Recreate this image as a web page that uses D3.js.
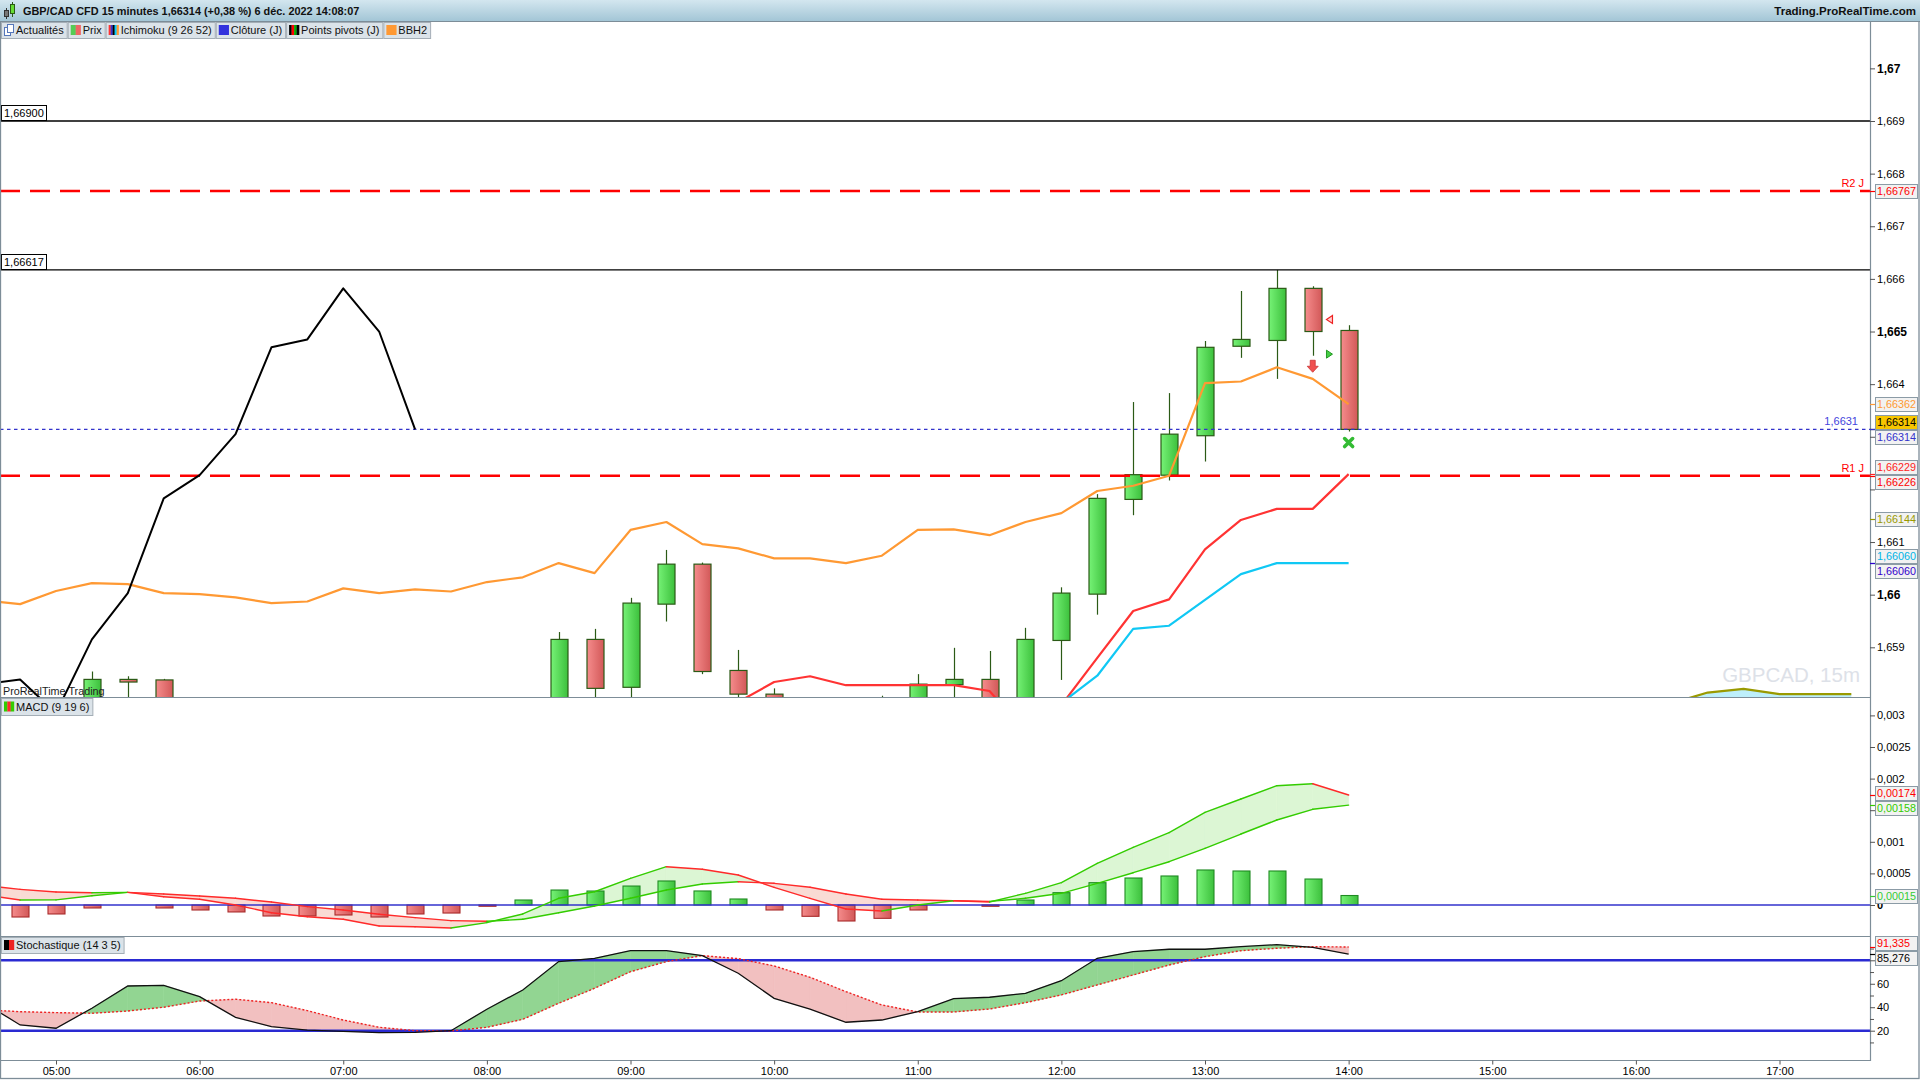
<!DOCTYPE html>
<html>
<head>
<meta charset="utf-8">
<script src="https://cdn.jsdelivr.net/npm/d3@7"></script>
<style>
html, body { margin: 0; padding: 0; background: #fff; }
svg { display: block; font-family: "Liberation Sans", Arial, sans-serif; }
</style>
</head>
<body>
<svg id="chart" width="1920" height="1080"></svg>
<script>
// ---- data ----
var times = ["04:30","04:45","05:00","05:15","05:30","05:45","06:00","06:15","06:30","06:45",
  "07:00","07:15","07:30","07:45","08:00","08:15","08:30","08:45","09:00","09:15",
  "09:30","09:45","10:00","10:15","10:30","10:45","11:00","11:15","11:30","11:45",
  "12:00","12:15","12:30","12:45","13:00","13:15","13:30","13:45","14:00"];

// candles 04:45 .. 14:00
var opens  = [1.6578,1.6577,1.6576,1.65839,1.65838,1.6578,1.6575,1.6572,1.6569,1.6571,1.6570,1.6567,1.6569,1.6571,1.6577,
  1.6579,1.65915,1.65824,1.65982,1.66058,1.65856,1.65811,1.6578,1.6575,1.6573,1.6579,1.65829,1.65839,1.6578,
  1.65913,1.66001,1.66181,1.66227,1.66302,1.66472,1.66483,1.66582,1.66502];
var highs  = [1.6580,1.6579,1.65854,1.65845,1.6584,1.6580,1.6578,1.6575,1.6573,1.6574,1.6572,1.6571,1.6573,1.6578,1.6580,
  1.65929,1.65935,1.65994,1.66085,1.66061,1.65895,1.65822,1.6580,1.6578,1.65808,1.65849,1.65899,1.65893,1.65937,
  1.66014,1.66191,1.66366,1.66383,1.66482,1.66577,1.66617,1.66586,1.66512];
var lows   = [1.6574,1.6573,1.6574,1.6579,1.6577,1.6574,1.6571,1.6568,1.6567,1.6568,1.6566,1.6565,1.6567,1.6570,1.6575,
  1.6578,1.6579,1.6579,1.65949,1.65849,1.6580,1.6576,1.6573,1.6570,1.6571,1.6577,1.6579,1.6574,1.6576,
  1.65838,1.65962,1.66151,1.66217,1.66253,1.6645,1.6641,1.66454,1.6631];
var closes = [1.6577,1.6576,1.65839,1.65834,1.6578,1.6575,1.6572,1.6569,1.6571,1.6570,1.6567,1.6569,1.6571,1.6577,1.6579,
  1.65915,1.65822,1.65984,1.66058,1.65854,1.65811,1.6578,1.6575,1.6572,1.6579,1.65830,1.65839,1.65775,1.65915,
  1.66003,1.66183,1.66228,1.66305,1.6647,1.66485,1.66582,1.665,1.66314];

// BBH2 (orange), 04:30 .. 14:00
var bbhVals = [1.65989,1.65982,1.66007,1.66022,1.6602,1.66003,1.66001,1.65995,1.65984,1.65987,1.66012,1.66003,1.6601,
  1.66006,1.66024,1.66033,1.6606,1.66041,1.66123,1.66138,1.66096,1.66088,1.66069,1.66069,1.6606,1.66074,1.66123,
  1.66124,1.66113,1.66138,1.66155,1.66197,1.66207,1.66226,1.66402,1.66405,1.66432,1.6641,1.66362];

// Ichimoku
var chikouTimes = ["04:30","04:45","05:00","05:15","05:30","05:45","06:00","06:15","06:30","06:45","07:00","07:15","07:30"];
var chikouVals = [1.6583,1.65839,1.65775,1.65915,1.66003,1.66183,1.66227,1.66305,1.6647,1.66485,1.66582,1.665,1.66314];
var tenkanTimes = ["09:45","10:00","10:15","10:30","10:45","11:00","11:15","11:30","11:45","12:00","12:15","12:30","12:45","13:00","13:15","13:30","13:45","14:00"];
var tenkanVals = [1.65796,1.65834,1.65845,1.65828,1.65828,1.65828,1.65828,1.65817,1.6574,1.6579,1.6588,1.65969,1.65991,1.66086,1.66142,1.66163,1.66163,1.66229];
var kijunTimes = ["11:45","12:00","12:15","12:30","12:45","13:00","13:15","13:30","13:45","14:00"];
var kijunVals = [1.6575,1.65794,1.65846,1.65935,1.65941,1.6599,1.66039,1.6606,1.6606,1.6606];
var senkouTimes = ["15:45","16:00","16:15","16:30","16:45","17:00","17:15","17:30"];
var senkouAVals = [1.6570,1.6576,1.65794,1.65814,1.65821,1.65811,1.65811,1.65811];
var senkouBVals = [1.6568,1.6569,1.6570,1.6570,1.6570,1.6570,1.6570,1.6570];

// horizontal levels
var blackLevels = [1.669, 1.66617];
var pivotNames = ["R2 J", "R1 J"];
var pivotVals = [1.66767, 1.66226];
var dayClose = 1.66314;

// signals
var signalTimes = ["13:52","13:52","13:45","14:00"];
var signalVals = [1.66523, 1.66457, 1.66434, 1.66289];
var signalKinds = ["sellTri", "buyTri", "downArrow", "cross"];

// MACD (9 19 6), 04:30 .. 14:00 ; histogram 04:45 .. 14:00
var macdVals = [0.00016,0.000079,0.000081,0.000147,0.0002,0.000131,0.00009,0.0,-0.000122,-0.000185,-0.000226,-0.000332,
  -0.000343,-0.000364,-0.000278,-0.000142,0.000106,0.00021,0.000422,0.000606,0.000565,0.000475,0.00028,0.000106,
  -0.000063,-0.000095,0.0,0.000068,0.000048,0.000185,0.000353,0.00066,0.000913,0.001144,0.001467,0.001677,0.001888,0.001919,0.00174];
var signalLineVals = [0.00031,0.000248,0.000206,0.000195,0.0002,0.000174,0.000142,0.000106,0.000047,-0.000026,-0.000079,
  -0.000147,-0.0002,-0.000248,-0.000258,-0.000226,-0.000122,-0.000016,0.000106,0.000237,0.000332,0.000369,0.000343,
  0.00028,0.000174,0.00009,0.000079,0.000068,0.000058,0.000106,0.000185,0.000343,0.000511,0.000685,0.000897,0.001123,0.001345,0.001514,0.00158];
var histVals = [-0.00019,-0.000142,-0.000047,0.0,-0.000047,-0.000079,-0.00011,-0.000174,-0.000174,-0.000158,-0.00019,
  -0.000142,-0.000127,-0.00002,0.000079,0.000237,0.000221,0.0003,0.00038,0.000222,0.000095,-0.000079,-0.000179,
  -0.000253,-0.000211,-0.000079,0.0,-0.00002,0.000079,0.000195,0.000353,0.000427,0.000459,0.000554,0.000538,0.000538,0.000411,0.00015];

// Stochastique (14 3 5), 04:30 .. 14:00
var kVals = [43.8,24.9,22.1,39.1,58.1,58.7,49.0,31.4,23.4,20.5,19.5,18.3,18.6,20,38.3,54.7,78.9,81.7,88.2,88.2,
  84,69,47.6,38.3,27.2,29.1,36.2,47.3,48.5,51.9,62.6,81.7,87.4,89.4,89.4,91.6,93.3,91.1,85.276];
var dVals = [37.8,36.2,35.4,34.9,36.8,40,45.3,46.8,43.9,37.1,29.1,22.9,20,19.8,22.9,29.7,43.4,56.2,70.3,78.9,
  84,81.4,75.2,65.5,53.3,41.9,36,36,38.5,43.9,50.5,59,67.5,76,83.1,88.2,90.3,91.6,91.335];

// axis labels
var priceTicks = [1.659,1.66,1.661,1.662,1.663,1.664,1.665,1.666,1.667,1.668,1.669,1.67];
var macdTicks = [0,0.0005,0.001,0.0015,0.002,0.0025,0.003];
var stochTicks = [20,40,60,80];
var stochMinor = [10,30,50,70,90];
var timeTicks = ["05:00","06:00","07:00","08:00","09:00","10:00","11:00","12:00","13:00","14:00","15:00","16:00","17:00"];

// last-value tags on the right axis
var priceTags = [["r2",1.66767],["bbh",1.66362],["last",1.66314],["close",1.66314],["tenkan",1.66229],
  ["r1",1.66226],["senkou",1.66144],["kijun",1.66060],["base",1.66060]];
var macdTags = [["macd",0.00174],["signal",0.00158],["hist",0.00015]];
var stochTags = [["d",91.335],["k",85.276]];

var legendNames = ["Actualités","Prix","Ichimoku (9 26 52)","Clôture (J)","Points pivots (J)","BBH2"];
var titleText = "GBP/CAD CFD 15 minutes 1,66314 (+0,38 %) 6 déc. 2022 14:08:07";

// ---- layout ----
var axisX = 1870;
var mainTop = 22, mainBottom = 697, macdTop = 698, macdBottom = 936, stochTop = 937, stochBottom = 1060;
var frame = "#7d8d98";

function mins(s) { var p = s.split(":"); return +p[0] * 60 + +p[1]; }

var x = d3.scaleLinear().domain([mins("05:00"), mins("17:00")]).range([56, 1779.5]);
var yMain = d3.scaleLinear().domain([1.659, 1.669]).range([647.3, 121]);
var yMacd = d3.scaleLinear().domain([0, 0.003]).range([905, 715.4]);
var yStoch = d3.scaleLinear().domain([20, 80]).range([1030.7, 960.3]);

var svg = d3.select("#chart");
var defs = svg.append("defs");

function hgrad(id, c1, c2, vertical) {
  var g = defs.append("linearGradient").attr("id", id)
    .attr("x1", 0).attr("y1", 0).attr("x2", vertical ? 0 : 1).attr("y2", vertical ? 1 : 0);
  g.append("stop").attr("offset", "0%").attr("stop-color", c1);
  g.append("stop").attr("offset", "100%").attr("stop-color", c2);
}
hgrad("gUp", "#76f276", "#3cc03c");
hgrad("gDn", "#f58c8c", "#d25858");
hgrad("gTitle", "#d3e6ef", "#a3c6d6", true);

function clip(id, top, bottom) {
  defs.append("clipPath").attr("id", id).append("rect")
    .attr("x", 1).attr("y", top).attr("width", axisX - 1).attr("height", bottom - top);
}
clip("cMain", mainTop, mainBottom);
clip("cMacd", macdTop, macdBottom);
clip("cStoch", stochTop, stochBottom);

svg.append("rect").attr("width", 1920).attr("height", 1080).attr("fill", "#fff");

// ---- main panel ----
var main = svg.append("g").attr("clip-path", "url(#cMain)");

main.append("text").attr("x", 1860).attr("y", 682).attr("text-anchor", "end")
  .attr("font-size", 20.5).attr("fill", "#dde1e8").text("GBPCAD, 15m");

// kumo
var senkou = senkouTimes.map(function (t, i) { return { t: mins(t), a: senkouAVals[i], b: senkouBVals[i] }; });
main.append("path").datum(senkou)
  .attr("d", d3.area().x(function (d) { return x(d.t); }).y0(function (d) { return yMain(d.b); }).y1(function (d) { return yMain(d.a); }))
  .attr("fill", "#bdeffb");

// candles
var candles = times.slice(1).map(function (t, i) {
  return { t: mins(t), o: opens[i], h: highs[i], l: lows[i], c: closes[i] };
});
var cg = main.append("g");
cg.selectAll("line").data(candles).join("line")
  .attr("x1", function (d) { return Math.round(x(d.t)) + 0.5; })
  .attr("x2", function (d) { return Math.round(x(d.t)) + 0.5; })
  .attr("y1", function (d) { return yMain(d.h); })
  .attr("y2", function (d) { return yMain(d.l); })
  .attr("stroke", "#2b5a16").attr("stroke-width", 1.2);
cg.selectAll("rect").data(candles).join("rect")
  .attr("x", function (d) { return Math.round(x(d.t)) - 8; })
  .attr("width", 17)
  .attr("y", function (d) { return yMain(Math.max(d.o, d.c)); })
  .attr("height", function (d) { return Math.max(1, Math.abs(yMain(d.o) - yMain(d.c))); })
  .attr("fill", function (d) { return d.c >= d.o ? "url(#gUp)" : "url(#gDn)"; })
  .attr("stroke", "#2b5a16").attr("stroke-width", 1.2);

main.append("text").attr("x", 3).attr("y", 695).attr("font-size", 10.8).attr("fill", "#222")
  .text("ProRealTime Trading");

// horizontal levels
blackLevels.forEach(function (v) {
  main.append("line").attr("x1", 0).attr("x2", axisX).attr("y1", yMain(v)).attr("y2", yMain(v))
    .attr("stroke", "#000").attr("stroke-width", 1.3);
});
pivotVals.forEach(function (v, i) {
  main.append("line").attr("x1", 0).attr("x2", axisX).attr("y1", yMain(v)).attr("y2", yMain(v))
    .attr("stroke", "#ff0000").attr("stroke-width", 2.7).attr("stroke-dasharray", "20,10");
  main.append("text").attr("x", 1864).attr("y", yMain(v) - 4).attr("text-anchor", "end")
    .attr("font-size", 11).attr("fill", "#ff0000").text(pivotNames[i]);
});
main.append("line").attr("x1", 0).attr("x2", axisX).attr("y1", yMain(dayClose)).attr("y2", yMain(dayClose))
  .attr("stroke", "#3333cc").attr("stroke-width", 1.1).attr("stroke-dasharray", "3.5,3.5");
main.append("text").attr("x", 1858).attr("y", yMain(dayClose) - 4).attr("text-anchor", "end")
  .attr("font-size", 11).attr("fill", "#4444dd").text(String(+dayClose.toFixed(4)).replace(".", ","));

function priceLine(ts, vals, color, w) {
  main.append("path").datum(d3.zip(ts, vals))
    .attr("d", d3.line().x(function (d) { return x(mins(d[0])); }).y(function (d) { return yMain(d[1]); }))
    .attr("fill", "none").attr("stroke", color).attr("stroke-width", w).attr("stroke-linejoin", "round");
}
priceLine(senkouTimes, senkouAVals, "#9a9a00", 2.2);
priceLine(times, bbhVals, "#ff9933", 2.2);
priceLine(tenkanTimes, tenkanVals, "#ff3333", 2.2);
priceLine(kijunTimes, kijunVals, "#10c8f4", 2.2);
priceLine(chikouTimes, chikouVals, "#000", 2);

// signal markers
signalTimes.forEach(function (t, i) {
  var cx = x(mins(t)), cy = yMain(signalVals[i]), k = signalKinds[i];
  if (k === "sellTri") {
    main.append("path").attr("d", "M" + (cx + 3) + "," + (cy - 4) + "L" + (cx - 3) + "," + cy + "L" + (cx + 3) + "," + (cy + 4) + "Z")
      .attr("fill", "#ffd0d0").attr("stroke", "#ee2222").attr("stroke-width", 1.2);
  } else if (k === "buyTri") {
    main.append("path").attr("d", "M" + (cx - 3) + "," + (cy - 4) + "L" + (cx + 3) + "," + cy + "L" + (cx - 3) + "," + (cy + 4) + "Z")
      .attr("fill", "#44cc44").attr("stroke", "#229922").attr("stroke-width", 1);
  } else if (k === "downArrow") {
    main.append("path").attr("d", "M" + (cx - 2.5) + "," + (cy - 6) + "H" + (cx + 2.5) + "V" + (cy) + "H" + (cx + 5.5) +
      "L" + cx + "," + (cy + 6) + "L" + (cx - 5.5) + "," + cy + "H" + (cx - 2.5) + "Z")
      .attr("fill", "#f05050").attr("stroke", "#cc3333").attr("stroke-width", 0.8);
  } else {
    main.append("path").attr("d", "M" + (cx - 4) + "," + (cy - 4) + "L" + (cx + 4) + "," + (cy + 4) + "M" + (cx + 4) + "," + (cy - 4) + "L" + (cx - 4) + "," + (cy + 4))
      .attr("stroke", "#33bb33").attr("stroke-width", 3.6).attr("stroke-linecap", "round");
  }
});

// left value boxes on the black levels
blackLevels.forEach(function (v) {
  var yy = Math.round(yMain(v));
  svg.append("rect").attr("x", 1.5).attr("y", yy - 15.5).attr("width", 45).attr("height", 15)
    .attr("fill", "#fff").attr("stroke", "#000").attr("stroke-width", 1);
  svg.append("text").attr("x", 4).attr("y", yy - 4).attr("font-size", 11).attr("fill", "#000")
    .text(v.toFixed(5).replace(".", ","));
});

// ---- shared helpers for the indicator panels ----
function fillBetween(g, ts, a, b, ys, upColor, dnColor) {
  for (var i = 0; i < ts.length - 1; i++) {
    var x0 = x(mins(ts[i])), x1 = x(mins(ts[i + 1]));
    var d0 = a[i] - b[i], d1 = a[i + 1] - b[i + 1];
    var polys = [];
    if (d0 * d1 < 0) {
      var t = d0 / (d0 - d1), xc = x0 + (x1 - x0) * t, vc = a[i] + (a[i + 1] - a[i]) * t;
      polys.push([[[x0, ys(a[i])], [xc, ys(vc)], [x0, ys(b[i])]], d0]);
      polys.push([[[xc, ys(vc)], [x1, ys(a[i + 1])], [x1, ys(b[i + 1])]], d1]);
    } else {
      polys.push([[[x0, ys(a[i])], [x1, ys(a[i + 1])], [x1, ys(b[i + 1])], [x0, ys(b[i])]], d0 + d1]);
    }
    polys.forEach(function (p) {
      var c = p[1] >= 0 ? upColor : dnColor;
      g.append("polygon").attr("points", p[0].map(function (q) { return q.join(","); }).join(" "))
        .attr("fill", c).attr("stroke", c).attr("stroke-width", 0.6);
    });
  }
}
function slopeLine(g, ts, v, ys, up, dn, w) {
  for (var i = 0; i < ts.length - 1; i++) {
    g.append("line").attr("x1", x(mins(ts[i]))).attr("x2", x(mins(ts[i + 1])))
      .attr("y1", ys(v[i])).attr("y2", ys(v[i + 1]))
      .attr("stroke", v[i + 1] >= v[i] ? up : dn).attr("stroke-width", w).attr("stroke-linecap", "round");
  }
}

// ---- MACD panel ----
var macd = svg.append("g").attr("clip-path", "url(#cMacd)");
fillBetween(macd, times, macdVals, signalLineVals, yMacd, "#dcf6d4", "#f9dbd4");
var bars = times.slice(1).map(function (t, i) { return { t: mins(t), v: histVals[i] }; });
macd.selectAll("rect.h").data(bars.filter(function (d) { return Math.abs(yMacd(d.v) - yMacd(0)) >= 0.8; }))
  .join("rect")
  .attr("x", function (d) { return Math.round(x(d.t)) - 8; })
  .attr("width", 17)
  .attr("y", function (d) { return Math.min(yMacd(d.v), yMacd(0)); })
  .attr("height", function (d) { return Math.abs(yMacd(d.v) - yMacd(0)); })
  .attr("fill", function (d) { return d.v >= 0 ? "url(#gUp)" : "url(#gDn)"; })
  .attr("stroke", function (d) { return d.v >= 0 ? "#1f8a22" : "#a82a2a"; }).attr("stroke-width", 1.1);
macd.append("line").attr("x1", 0).attr("x2", axisX).attr("y1", yMacd(0)).attr("y2", yMacd(0))
  .attr("stroke", "#3333cc").attr("stroke-width", 1.3);
slopeLine(macd, times, signalLineVals, yMacd, "#33cc00", "#ff2a2a", 1.4);
slopeLine(macd, times, macdVals, yMacd, "#33cc00", "#ff2a2a", 1.4);

// ---- Stochastic panel ----
var sto = svg.append("g").attr("clip-path", "url(#cStoch)");
fillBetween(sto, times, kVals, dVals, yStoch, "#92d592", "#f2c0c0");
[80, 20].forEach(function (lv) {
  sto.append("line").attr("x1", 0).attr("x2", axisX).attr("y1", yStoch(lv)).attr("y2", yStoch(lv))
    .attr("stroke", "#2a2ad2").attr("stroke-width", 2.6);
});
var stoLine = d3.line().x(function (d) { return x(mins(d[0])); }).y(function (d) { return yStoch(d[1]); });
sto.append("path").datum(d3.zip(times, dVals)).attr("d", stoLine).attr("fill", "none")
  .attr("stroke", "#ee2222").attr("stroke-width", 1.4).attr("stroke-dasharray", "2,2");
sto.append("path").datum(d3.zip(times, kVals)).attr("d", stoLine).attr("fill", "none")
  .attr("stroke", "#111").attr("stroke-width", 1.3);

// ---- frames and separators ----
[mainBottom, macdBottom, stochBottom].forEach(function (yy) {
  svg.append("line").attr("x1", 0).attr("x2", axisX).attr("y1", yy + 0.5).attr("y2", yy + 0.5)
    .attr("stroke", frame).attr("stroke-width", 1.2);
});
svg.append("line").attr("x1", axisX + 0.5).attr("x2", axisX + 0.5).attr("y1", mainTop).attr("y2", stochBottom + 1)
  .attr("stroke", frame).attr("stroke-width", 1.2);
svg.append("rect").attr("x", 0.5).attr("y", 0.5).attr("width", 1918.5).attr("height", 1078)
  .attr("fill", "none").attr("stroke", frame).attr("stroke-width", 1.3);

// ---- right axes ----
function styleAxis(g) {
  g.select(".domain").remove();
  g.attr("font-family", null).attr("font-size", null);
  g.selectAll(".tick line").attr("stroke", "#555");
  g.selectAll(".tick text").attr("font-size", 11).attr("fill", "#000");
}
var axMain = svg.append("g").attr("transform", "translate(" + axisX + ",0)")
  .call(d3.axisRight(yMain).tickValues(priceTicks).tickSize(5).tickPadding(2)
    .tickFormat(function (v) { return String(+v.toFixed(3)).replace(".", ","); }));
styleAxis(axMain);
axMain.selectAll(".tick text").attr("font-weight", function (v) { return Math.round(v * 1000) % 5 === 0 ? "bold" : null; })
  .attr("font-size", function (v) { return Math.round(v * 1000) % 5 === 0 ? 12 : 11; });

var axMacd = svg.append("g").attr("transform", "translate(" + axisX + ",0)")
  .call(d3.axisRight(yMacd).tickValues(macdTicks).tickSize(5).tickPadding(2)
    .tickFormat(function (v) { return v === 0 ? "0" : String(+v.toFixed(4)).replace(".", ","); }));
styleAxis(axMacd);
axMacd.selectAll(".tick text").attr("font-weight", function (v) { return v === 0 ? "bold" : null; });

var axSto = svg.append("g").attr("transform", "translate(" + axisX + ",0)")
  .call(d3.axisRight(yStoch).tickValues(stochTicks).tickSize(5).tickPadding(2));
styleAxis(axSto);
var axStoMinor = svg.append("g").attr("transform", "translate(" + axisX + ",0)")
  .call(d3.axisRight(yStoch).tickValues(stochMinor).tickSize(4).tickFormat(""));
styleAxis(axStoMinor);

// time axis
var axTime = svg.append("g").attr("transform", "translate(0," + (stochBottom + 0.5) + ")")
  .call(d3.axisBottom(x).tickValues(timeTicks.map(mins)).tickSize(4).tickPadding(3)
    .tickFormat(function (m) { return timeTicks[timeTicks.map(mins).indexOf(m)]; }));
styleAxis(axTime);

// ---- value tags ----
var tagColor = { r2: "#ff0000", bbh: "#ff9933", last: "#000", close: "#3333cc", tenkan: "#ff2222", r1: "#ff0000",
  senkou: "#999900", kijun: "#00b4e6", base: "#3300cc", macd: "#ff0000", signal: "#33cc00", hist: "#33cc33",
  d: "#ff0000", k: "#000" };
function spread(items, h) {
  items.sort(function (a, b) { return a.y0 - b.y0; });
  var groups = items.map(function (d) { return { items: [d], mean: d.y0 }; });
  var changed = true;
  while (changed) {
    changed = false;
    for (var i = 0; i < groups.length - 1; i++) {
      var a = groups[i], b = groups[i + 1];
      if (a.mean + a.items.length * h / 2 > b.mean - b.items.length * h / 2) {
        var all = a.items.concat(b.items);
        groups.splice(i, 2, { items: all, mean: d3.mean(all, function (d) { return d.y0; }) });
        changed = true;
        break;
      }
    }
  }
  groups.forEach(function (g) {
    var top = g.mean - g.items.length * h / 2;
    g.items.forEach(function (d, k) { d.y = top + h * (k + 0.5); });
  });
}
var tagYs = [];
function drawTags(tags, ys, fmt) {
  var items = tags.map(function (d) { return { key: d[0], v: d[1], y0: ys(d[1]) }; });
  spread(items, 15);
  items.forEach(function (d) {
    var c = tagColor[d.key];
    tagYs.push(d.y);
    svg.append("line").attr("x1", axisX).attr("x2", axisX + 5).attr("y1", Math.round(d.y0) + 0.5).attr("y2", Math.round(d.y0) + 0.5)
      .attr("stroke", c).attr("stroke-width", 1.2);
    svg.append("rect").attr("x", 1875.5).attr("y", Math.round(d.y - 7) + 0.5).attr("width", 42).attr("height", 14)
      .attr("fill", d.key === "last" ? "#f7c600" : "#f2f2f2").attr("stroke", "#8b9ba6").attr("stroke-width", 1);
    svg.append("text").attr("x", 1877).attr("y", Math.round(d.y - 7) + 11.3).attr("font-size", 10.8)
      .attr("fill", c).text(fmt(d.v));
  });
}
drawTags(priceTags, yMain, function (v) { return v.toFixed(5).replace(".", ","); });
drawTags(macdTags, yMacd, function (v) { return v.toFixed(5).replace(".", ","); });
drawTags(stochTags, yStoch, function (v) { return v.toFixed(3).replace(".", ","); });

// tick labels that sit under a value tag are hidden, as on the platform
[[axMain, yMain], [axMacd, yMacd], [axSto, yStoch]].forEach(function (p) {
  p[0].selectAll(".tick text").filter(function (v) {
    var ty = p[1](v);
    return tagYs.some(function (t) { return Math.abs(t - ty) < 7.5; });
  }).remove();
});

// ---- title bar ----
svg.append("rect").attr("x", 0).attr("y", 0).attr("width", 1920).attr("height", 21).attr("fill", "url(#gTitle)");
svg.append("line").attr("x1", 0).attr("x2", 1920).attr("y1", 21.5).attr("y2", 21.5).attr("stroke", frame);
var ic = svg.append("g");
ic.append("line").attr("x1", 6.5).attr("x2", 6.5).attr("y1", 8).attr("y2", 19).attr("stroke", "#333");
ic.append("rect").attr("x", 4.5).attr("y", 10.5).attr("width", 4).attr("height", 6).attr("fill", "#777").attr("stroke", "#333");
ic.append("line").attr("x1", 12.5).attr("x2", 12.5).attr("y1", 2).attr("y2", 17).attr("stroke", "#2b5a16");
ic.append("rect").attr("x", 10.5).attr("y", 4.5).attr("width", 4).attr("height", 9).attr("fill", "#66dd33").attr("stroke", "#2b5a16");
svg.append("text").attr("x", 23).attr("y", 15).attr("font-size", 10.9).attr("font-weight", "bold")
  .attr("fill", "#111").text(titleText);
svg.append("text").attr("x", 1916).attr("y", 15).attr("text-anchor", "end").attr("font-size", 11.5)
  .attr("font-weight", "bold").attr("fill", "#111").text("Trading.ProRealTime.com");

// ---- legend tabs ----
var iconStripes = {
  "Actualités": null,
  "Prix": ["#55cc55", "#ee6666"],
  "Ichimoku (9 26 52)": ["#ff3333", "#3333cc", "#000", "#00ccff", "#ff9933"],
  "Clôture (J)": ["#3333dd"],
  "Points pivots (J)": ["#000", "#ff0000", "#00aa00", "#000"],
  "BBH2": ["#ff9933"],
  "MACD (9 19 6)": ["#33cc00", "#ff2a2a", "#33cc00"],
  "Stochastique (14 3 5)": ["#000", "#ee2222"]
};
function tab(x0, y0, name, h) {
  var g = svg.append("g");
  var t = g.append("text").attr("x", x0 + 15).attr("y", y0 + h / 2 + 4).attr("font-size", 11).attr("fill", "#111").text(name);
  var w = t.node().getComputedTextLength() + 18;
  g.insert("rect", "text").attr("x", x0 + 0.5).attr("y", y0 + 0.5).attr("width", w).attr("height", h)
    .attr("fill", "#dbe3e9").attr("stroke", "#a4aeb6");
  var st = iconStripes[name];
  var iy = y0 + h / 2 - 5;
  if (st) {
    var sw = 10 / st.length;
    st.forEach(function (c, i) {
      g.append("rect").attr("x", x0 + 3 + i * sw).attr("y", iy).attr("width", sw + 0.2).attr("height", 10).attr("fill", c);
    });
  } else {
    g.append("rect").attr("x", x0 + 3.5).attr("y", iy + 2.5).attr("width", 6).attr("height", 8).attr("fill", "#fff").attr("stroke", "#5577bb");
    g.append("rect").attr("x", x0 + 6.5).attr("y", iy - 0.5).attr("width", 6).attr("height", 8).attr("fill", "#fff").attr("stroke", "#5577bb");
  }
  return w;
}
var tx = 1;
legendNames.forEach(function (n) { tx += tab(tx, 22, n, 16) + 1; });
tab(1, 698, "MACD (9 19 6)", 17);
tab(1, 937, "Stochastique (14 3 5)", 16);
</script>
</body>
</html>
